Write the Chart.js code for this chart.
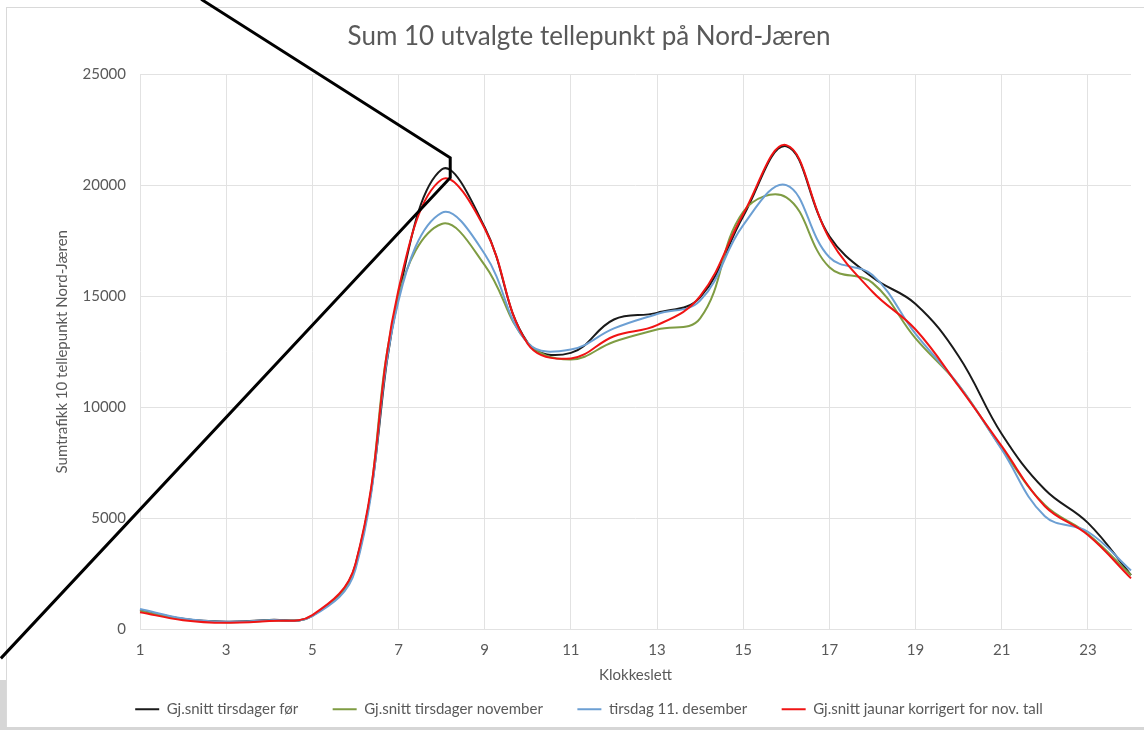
<!DOCTYPE html>
<html>
<head>
<meta charset="utf-8">
<script src="https://cdn.jsdelivr.net/npm/chart.js@4/dist/chart.umd.min.js"></script>
<style>
  html, body { margin: 0; padding: 0; background: #fff; }
  #wrap { position: relative; width: 1144px; height: 730px; overflow: hidden; }
  #frame { position: absolute; left: 6px; top: 7px; width: 1160px; height: 720px; border: 1px solid #d9d9d9; }
  #band { position: absolute; left: 0; top: 680px; width: 6px; height: 50px; background: #d6d6d6; }
  #bottomline { position: absolute; left: 0; top: 727px; width: 1144px; height: 3px; background: #d6d6d6; }
  canvas { position: absolute; left: 0; top: 0; }
</style>
</head>
<body>
<div id="wrap">
  <div id="frame"></div>
  <div id="band"></div>
  <div id="bottomline"></div>
  <canvas id="c" width="1144" height="730"></canvas>
</div>
<script>
const hours = ['1','2','3','4','5','6','7','8','9','10','11','12','13','14','15','16','17','18','19','20','21','22','23','24'];

const snittFor = [880, 480, 350, 430, 620, 2900, 15000, 20700, 18100, 12900, 12450, 13950, 14250, 14950, 18600, 21750, 17700, 15850, 14650, 12300, 8800, 6300, 4800, 2450];
const snittNovember = [850, 460, 330, 400, 620, 2800, 15000, 18250, 16400, 12900, 12150, 12950, 13500, 14000, 18800, 19450, 16300, 15600, 13100, 11000, 8150, 5600, 4300, 2450];
const desember11 = [920, 500, 350, 420, 600, 2700, 14800, 18750, 16900, 12900, 12600, 13550, 14200, 14800, 18200, 20000, 16750, 15950, 13300, 11000, 8100, 5100, 4400, 2650];
const januarKorr = [780, 420, 300, 380, 650, 2950, 15300, 20250, 18050, 12850, 12200, 13200, 13700, 15000, 18700, 21800, 17600, 15200, 13500, 10950, 8250, 5550, 4250, 2300];

const seriesNames = ['Gj.snitt tirsdager før', 'Gj.snitt tirsdager november', 'tirsdag 11. desember', 'Gj.snitt jaunar korrigert for nov. tall'];

const yTicks = [0, 5000, 10000, 15000, 20000, 25000];

// callout polyline, in data units (hour, value)
const calloutHours = [2.42, 8.2, 8.2, -2.23];
const calloutValues = [28360, 21230, 20330, -1300];

const FONT = 'Lato, "Open Sans", sans-serif';
const TXT = '#595959';

const calloutPlugin = {
  id: 'callout',
  afterDraw(chart) {
    const xs = chart.scales.x, ys = chart.scales.y, ctx = chart.ctx;
    ctx.save();
    ctx.strokeStyle = '#000';
    ctx.lineWidth = 3;
    ctx.lineJoin = 'miter';
    ctx.beginPath();
    calloutHours.forEach((h, i) => {
      const px = xs.getPixelForValue(h - 1);
      const py = ys.getPixelForValue(calloutValues[i]);
      if (i === 0) ctx.moveTo(px, py); else ctx.lineTo(px, py);
    });
    ctx.stroke();
    ctx.restore();
  }
};

function ds(label, data, color, order) {
  return {
    label, data, borderColor: color, backgroundColor: color,
    borderWidth: 2, pointRadius: 0, tension: 0.4, fill: false, order
  };
}

new Chart(document.getElementById('c'), {
  type: 'line',
  data: {
    labels: hours,
    datasets: [
      ds(seriesNames[0], snittFor, '#1a1a1a', 4),
      ds(seriesNames[1], snittNovember, '#7f9c43', 3),
      ds(seriesNames[2], desember11, '#6c9fd3', 2),
      ds(seriesNames[3], januarKorr, '#f01414', 1)
    ]
  },
  options: {
    responsive: false,
    animation: false,
    layout: { padding: { left: 40, right: 6, top: 0, bottom: 3.25 } },
    plugins: {
      title: {
        display: true,
        text: 'Sum 10 utvalgte tellepunkt på Nord-Jæren',
        color: TXT,
        font: { family: FONT, size: 26, weight: 'normal' },
        padding: { top: 21.4, bottom: 21.4 }
      },
      legend: {
        position: 'bottom',
        labels: {
          color: TXT,
          font: { family: FONT, size: 15 },
          usePointStyle: true,
          pointStyle: 'line',
          pointStyleWidth: 24,
          padding: 34.5,
          sort: (a, b) => a.datasetIndex - b.datasetIndex
        }
      },
      tooltip: { enabled: false }
    },
    scales: {
      x: {
        type: 'category',
        offset: false,
        afterFit: (s) => { s.height = 37.75; },
        grid: {
          drawTicks: false,
          color: (c) => (c.index % 2 === 0 ? '#e2e2e2' : 'rgba(0,0,0,0)'),
          lineWidth: 1
        },
        border: { color: '#e2e2e2' },
        ticks: {
          autoSkip: false,
          maxRotation: 0,
          padding: 13,
          color: TXT,
          font: { family: FONT, size: 15, lineHeight: 1.0 },
          callback: (v, i) => (i % 2 === 0 ? hours[i] : '')
        },
        title: {
          display: true,
          text: 'Klokkeslett',
          color: TXT,
          font: { family: FONT, size: 15, lineHeight: 1.0 },
          padding: { top: 0, bottom: -15.25 }
        }
      },
      y: {
        min: 0,
        max: 25000,
        afterFit: (s) => { s.width = 100; },
        afterBuildTicks: (s) => { s.ticks = yTicks.map(v => ({ value: v })); },
        grid: { drawTicks: false, color: '#e2e2e2' },
        border: { display: false },
        ticks: {
          padding: 14,
          color: TXT,
          font: { family: FONT, size: 15 },
          callback: (v) => String(v)
        },
        title: {
          display: true,
          text: 'Sumtrafikk 10 tellepunkt Nord-Jæren',
          color: TXT,
          font: { family: FONT, size: 15 },
          padding: { top: 13, bottom: 0 }
        }
      }
    }
  },
  plugins: [calloutPlugin]
});
</script>
</body>
</html>
